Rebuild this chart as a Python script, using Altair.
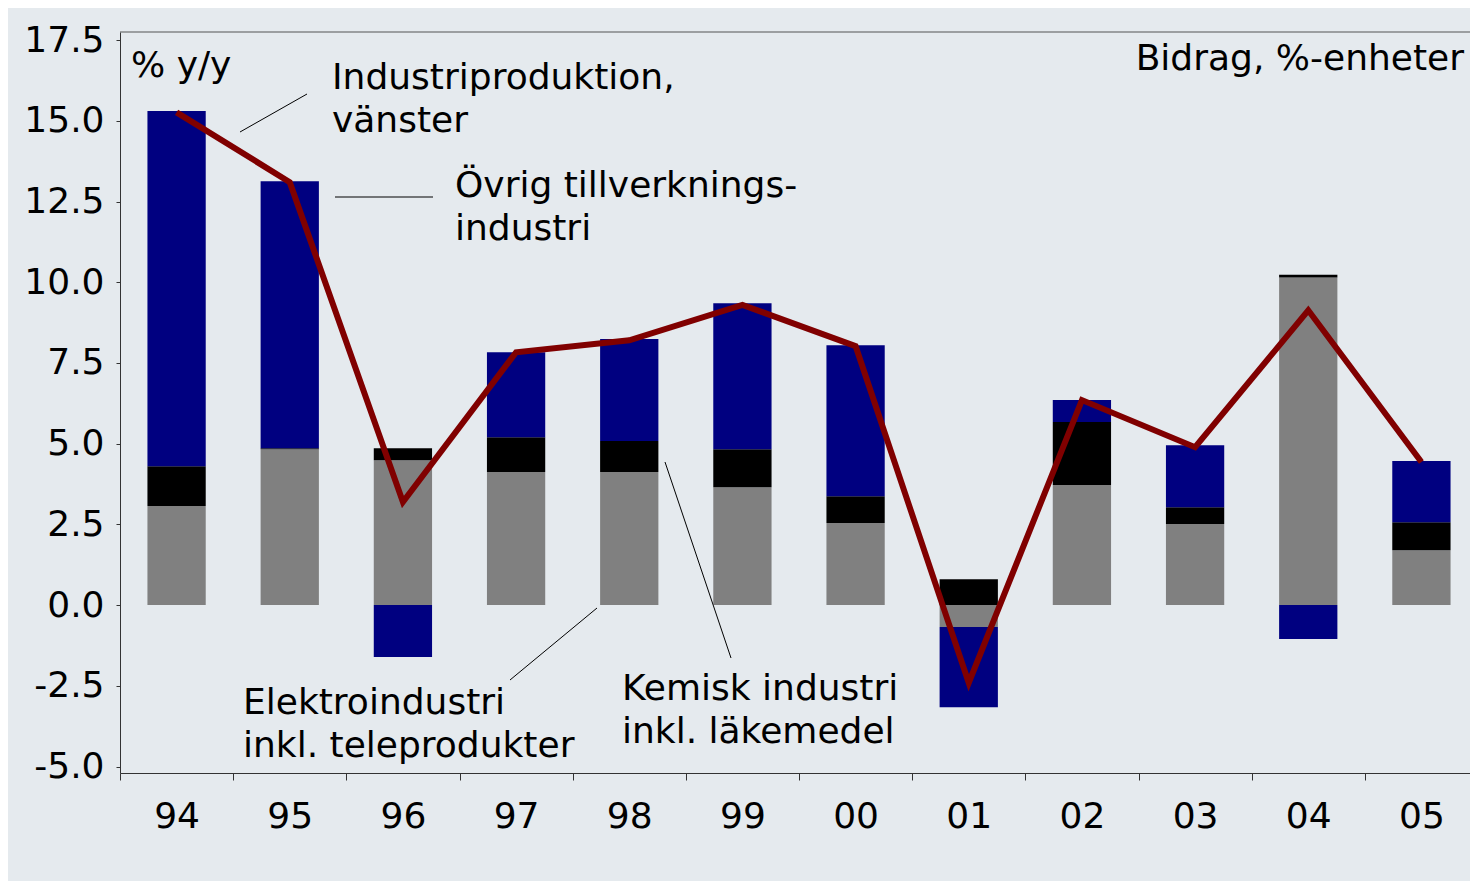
import altair as alt
import pandas as pd

years = ["94", "95", "96", "97", "98", "99", "00", "01", "02", "03", "04", "05"]
elektro = [3.07, 4.83, 4.49, 4.12, 4.12, 3.65, 2.54, -0.68, 3.72, 2.51, 10.15, 1.70]
kemisk = [1.23, 0.03, 0.37, 1.08, 0.96, 1.18, 0.83, 0.80, 1.95, 0.52, 0.08, 0.87]
ovrig = [11.0, 8.27, -1.61, 2.63, 3.16, 4.52, 4.68, -2.48, 0.68, 1.92, -1.05, 1.89]
industri = [15.26, 13.1, 3.19, 7.83, 8.2, 9.3, 8.02, -2.41, 6.35, 4.89, 9.13, 4.43]
y_ticks = [-5.0, -2.5, 0.0, 2.5, 5.0, 7.5, 10.0, 12.5, 15.0, 17.5]

series_names = ["Elektro", "Kemisk", "Övrig"]
series_colors = ["#808080", "#000000", "#000080"]

rows = []
for i, y in enumerate(years):
    for k, (name, vals) in enumerate(zip(series_names, [elektro, kemisk, ovrig])):
        rows.append({"year": y, "series": name, "value": vals[i], "ord": k})
bars_df = pd.DataFrame(rows)
line_df = pd.DataFrame({"year": years, "value": industri})

W, H = 1350, 741
XR = 1358  # plot runs to the page edge, as in the reference
FONT = "DejaVu Sans"
FS = 36

x_scale = alt.Scale(paddingInner=0, paddingOuter=0, range=[0, XR])
x_enc = alt.X(
    "year:N",
    sort=years,
    scale=x_scale,
    axis=alt.Axis(
        title=None, labelAngle=0, tickBand="extent", tickSize=7,
        labelPadding=19, labelFontSize=FS, labelFont=FONT, labelColor="#000",
        domainColor="#333", tickColor="#333", grid=False,
    ),
)
y_scale = alt.Scale(domain=[-5.2, 17.75], nice=False, zero=False)
y_axis = alt.Axis(
    title=None, values=y_ticks,
    labelExpr="(datum.value < 0 ? '-' : '') + format(abs(datum.value), '.1f')",
    tickSize=4, labelPadding=12,
    labelFontSize=FS, labelFont=FONT, labelColor="#000",
    domainColor="#333", tickColor="#333", grid=False,
)

bars = alt.Chart(bars_df).mark_bar(width=alt.RelativeBandSize(0.515)).encode(
    x=x_enc,
    y=alt.Y("value:Q", stack="zero", scale=y_scale, axis=y_axis),
    color=alt.Color("series:N", scale=alt.Scale(domain=series_names, range=series_colors), legend=None),
    order=alt.Order("ord:Q"),
)

line = alt.Chart(line_df).mark_line(color="#800000", strokeWidth=6, strokeJoin="miter").encode(
    x=alt.X("year:N", sort=years),
    y=alt.Y("value:Q", scale=y_scale),
)

one = pd.DataFrame({"a": [0]})

def txt(s, x, y, align="left"):
    return alt.Chart(one).mark_text(
        text=s, align=align, baseline="alphabetic", fontSize=FS, font=FONT, color="#000"
    ).encode(x=alt.value(x), y=alt.value(y))

def rule(x1, y1, x2, y2, color="#000", w=1):
    return alt.Chart(one).mark_rule(color=color, strokeWidth=w).encode(
        x=alt.value(x1), y=alt.value(y1), x2=alt.value(x2), y2=alt.value(y2)
    )

top_border = rule(0, 0, XR, 0, color="#555", w=1.2)

annotations = [
    txt("% y/y", 11, 45),
    txt("Industriproduktion,", 212, 57),
    txt("vänster", 212, 100),
    txt("Övrig tillverknings-", 335, 165),
    txt("industri", 335, 208),
    txt("Elektroindustri", 123, 682),
    txt("inkl. teleprodukter", 123, 725),
    txt("Kemisk industri", 502, 668),
    txt("inkl. läkemedel", 502, 711),
    txt("Bidrag, %-enheter", 1344, 38, align="right"),
]
leaders = [
    rule(120, 100, 187, 62),
    rule(215, 165, 313, 165),
    rule(390, 648, 477, 576),
    rule(545, 430, 611, 626),
]

chart = alt.layer(bars, line, top_border, *leaders, *annotations).properties(
    width=W, height=H,
    autosize=alt.AutoSizeParams(type="none"),
    padding={"left": 112, "top": 24, "right": 0, "bottom": 108},
    background="#e5eaee",
).configure_view(stroke=None)

chart.save("out.html", embed_options={"renderer": "svg", "actions": False})
